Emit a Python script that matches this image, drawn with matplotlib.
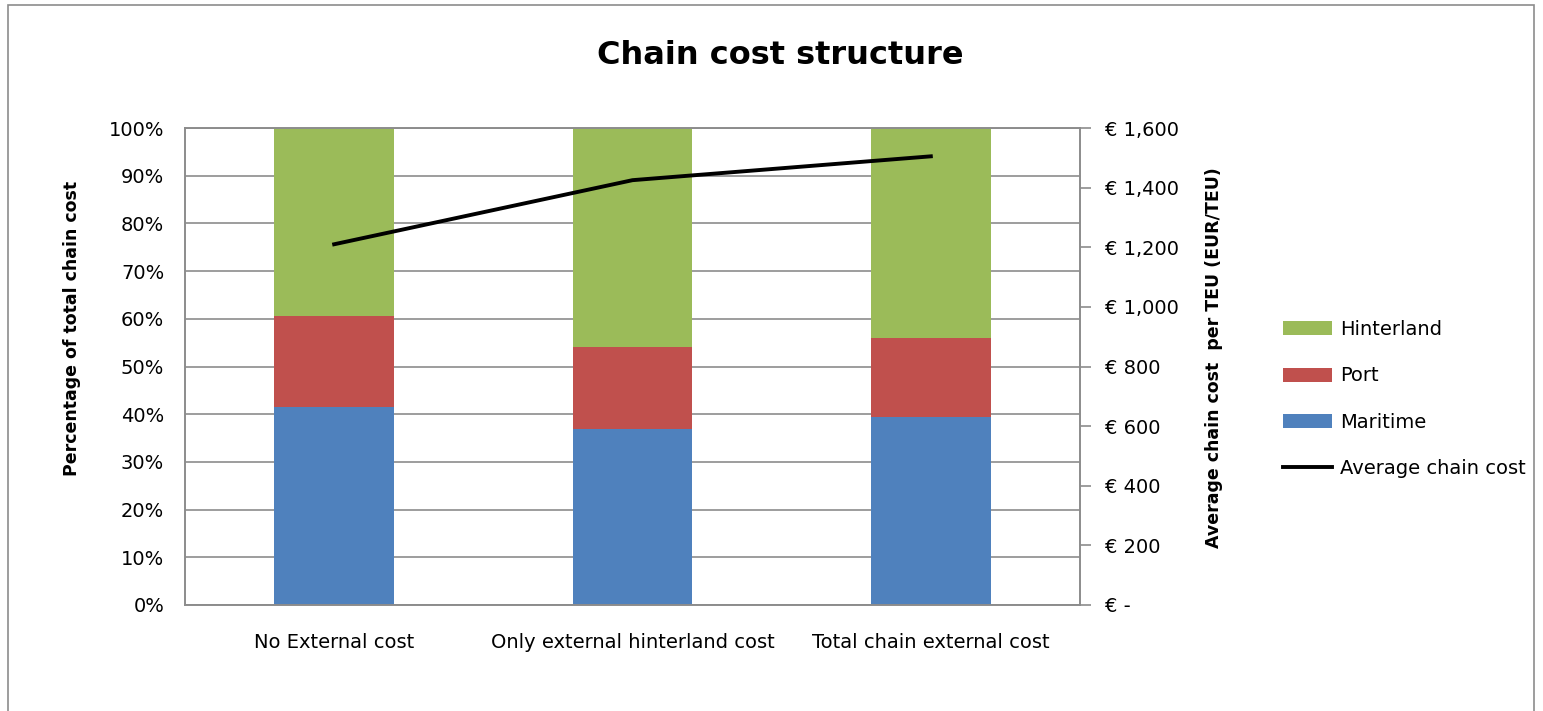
import numpy as np
import matplotlib.pyplot as plt
from matplotlib.patches import Rectangle
from matplotlib.ticker import FuncFormatter

# Data
categories = ["No External cost", "Only external hinterland cost", "Total chain external cost"]
maritime = [41.5, 37.0, 39.5]      # % of total chain cost
port = [19.0, 17.0, 16.5]
hinterland = [39.5, 46.0, 44.0]
avg_cost = [1210, 1425, 1505]      # EUR/TEU

plt.rcParams["font.family"] = ["DejaVu Sans"]

fig = plt.figure(figsize=(15.43, 7.11), dpi=100)
ax = fig.add_axes([185/1543, 106/711, 895/1543, 477/711])

x = np.arange(len(categories))
w = 0.4
c_mar, c_port, c_hint = "#4f81bd", "#c0504d", "#9bbb59"
b1 = ax.bar(x, maritime, w, color=c_mar, label="Maritime", zorder=2)
b2 = ax.bar(x, port, w, bottom=maritime, color=c_port, label="Port", zorder=2)
b3 = ax.bar(x, hinterland, w, bottom=np.add(maritime, port), color=c_hint,
            label="Hinterland", zorder=2)

ax.set_xlim(-0.5, 2.5)
ax.set_ylim(0, 100)
ax.set_yticks(np.arange(0, 101, 10))
ax.yaxis.set_major_formatter(FuncFormatter(lambda v, p: f"{v:.0f}%"))
ax.grid(axis="y", color="#8c8c8c", linewidth=1.2, zorder=0)
ax.set_xticks(x)
ax.set_xticklabels(categories, fontsize=14)
ax.tick_params(axis="x", length=0, pad=20)
ax.tick_params(axis="y", length=0, labelsize=14, pad=15)
for s in ax.spines.values():
    s.set_color("#8c8c8c")
    s.set_linewidth(1.2)
ax.set_ylabel("Percentage of total chain cost", fontsize=12.5, fontweight="bold")
ax.yaxis.set_label_coords(-0.116, 0.58)

ax2 = ax.twinx()
line, = ax2.plot(x, avg_cost, color="black", linewidth=2.8, label="Average chain cost", zorder=3)
ax2.set_ylim(0, 1600)
ax2.set_yticks(np.arange(0, 1601, 200))
ax2.yaxis.set_major_formatter(FuncFormatter(lambda v, p: "€ -" if v == 0 else f"€ {v:,.0f}"))
ax2.tick_params(axis="y", length=8, width=1.2, color="#8c8c8c", labelsize=14, pad=10)
for s in ax2.spines.values():
    s.set_color("#8c8c8c")
    s.set_linewidth(1.2)
ax2.set_ylabel("Average chain cost  per TEU (EUR/TEU)", fontsize=12.5, fontweight="bold")
ax2.yaxis.set_label_coords(1.1397, 0.518)

fig.legend(handles=[b3, b2, b1, line], labels=["Hinterland", "Port", "Maritime", "Average chain cost"],
           loc="center left", bbox_to_anchor=(1265/1543, 1 - 399/711), frameon=False,
           fontsize=14, handlelength=2.55, handleheight=0.72, handletextpad=0.4,
           labelspacing=1.4, borderpad=0.4)

fig.text(780/1543, 1 - 55/711, "Chain cost structure", ha="center", va="center",
         fontsize=23, fontweight="bold")

fig.patches.append(Rectangle((8/1543, -0.01), 1526/1543, 1 - 5/711 + 0.01,
                             transform=fig.transFigure, fill=False,
                             edgecolor="#8c8c8c", linewidth=1.2))

fig.savefig("out.png", dpi=100)
